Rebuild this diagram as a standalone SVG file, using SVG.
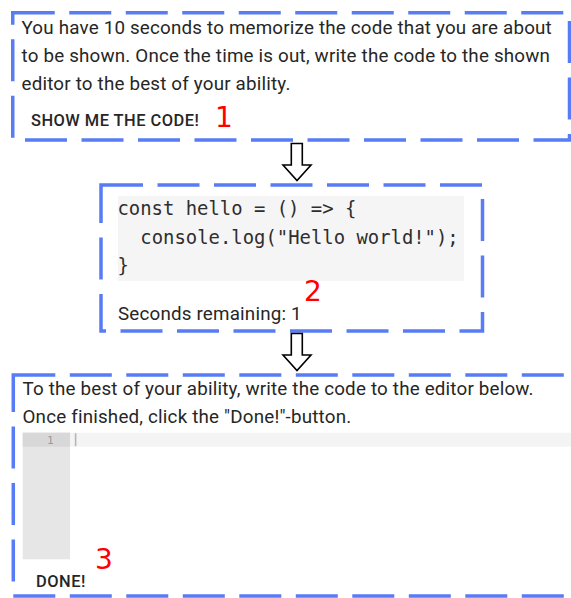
<svg xmlns="http://www.w3.org/2000/svg" width="571" height="598" viewBox="0 0 571 598">
<style>
.box{fill:none;stroke:#587cf5;stroke-width:3.5;stroke-dasharray:42 14.5}
.t{font-family:Roboto,"Liberation Sans",sans-serif;font-size:18.8px;letter-spacing:0.19px;fill:#262626}
.btn{font-family:Roboto,"Liberation Sans",sans-serif;font-weight:500;font-size:16.45px;letter-spacing:0.47px;fill:#262626}
.code{font-family:"DejaVu Sans Mono",monospace;font-size:18.9px;fill:#2e2e2e}
.num{font-family:"DejaVu Sans",sans-serif;font-size:28px;fill:#ff0000}
.arrow{fill:#fff;stroke:#000;stroke-width:1.6;stroke-linejoin:miter}
.gut{font-family:"DejaVu Sans Mono",monospace;font-size:11px;fill:#999}
</style>
<rect width="571" height="598" fill="#fff"/>
<g id="box1">
<rect class="box" x="12.75" y="12.75" width="556.75" height="127.25"/>
<text class="t" x="21.5" y="34.3">You have 10 seconds to memorize the code that you are about</text>
<text class="t" x="21.5" y="62.3">to be shown. Once the time is out, write the code to the shown</text>
<text class="t" x="21.5" y="90.3">editor to the best of your ability.</text>
<text class="btn" x="31" y="126">SHOW ME THE CODE!</text>
<text class="num" x="215" y="126.7">1</text>
</g>
<g id="box2">
<rect class="box" x="101" y="185" width="381.5" height="146"/>
<rect x="118" y="196" width="346" height="85" fill="#f5f5f5"/>
<text class="code" x="117.5" y="215">const hello = () =&gt; {</text>
<text class="code" x="140.3" y="243.5">console.log("Hello world!");</text>
<text class="code" x="117.5" y="272">}</text>
<text class="t" x="118" y="319.5">Seconds remaining: 1</text>
<text class="num" x="304" y="300.7">2</text>
</g>
<g id="box3">
<rect class="box" x="13.3" y="375" width="560.25" height="221"/>
<text class="t" x="22.5" y="395">To the best of your ability, write the code to the editor below.</text>
<text class="t" x="22.5" y="423">Once finished, click the "Done!"-button.</text>
<rect x="22.7" y="432.7" width="47.3" height="126.6" fill="#e6e6e6"/>
<rect x="22.7" y="432.7" width="47.3" height="14" fill="#d8d8d8"/>
<rect x="70" y="432.7" width="501" height="14" fill="#f4f4f4"/>
<rect x="74.8" y="433.2" width="1.6" height="13" fill="#b5b5b5"/>
<text class="gut" x="53.5" y="444" text-anchor="end">1</text>
<text class="btn" x="36" y="586.5">DONE!</text>
<text class="num" x="95" y="569.3">3</text>
</g>
<g id="connectors">
<path class="arrow" d="M291.3,143.5 H302.3 V165 H311 L297,180.5 L283,165 H291.3 Z"/>
<path class="arrow" d="M291.3,333.5 H302.3 V355 H311 L297,370.5 L283,355 H291.3 Z"/>
</g>
</svg>
